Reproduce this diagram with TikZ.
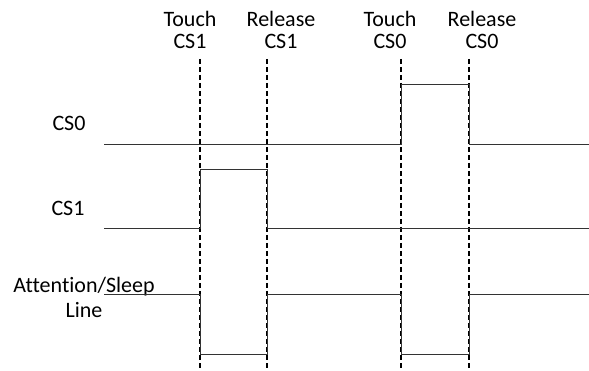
\documentclass[tikz,border=0pt]{standalone}
\usepackage{fontspec}
\setmainfont{Carlito}[Ligatures=NoCommon]
\usetikzlibrary{calc}
\tikzset{
  sig/.style={font=\fontsize{22}{25}\selectfont, align=center, inner sep=0pt},
  evt/.style={font=\fontsize{22}{22}\selectfont, align=center, inner sep=0pt},
  wave/.style={line width=1pt, draw=black!80},
  marker/.style={line width=1.3pt, dash pattern=on 5pt off 3pt}
}
\begin{document}
\begin{tikzpicture}[x=1pt, y=-1pt]
\useasboundingbox (0,0) rectangle (589,371);
% event labels
\node[evt] (touch1) at (190,30) {Touch\\CS1};
\node[evt] (rel1) at (281,30) {Release\\CS1};
\node[evt] (touch0) at (390,30) {Touch\\CS0};
\node[evt] (rel0) at (482,30) {Release\\CS0};
% signal labels
\node[sig] (lcs0) at (69,123) {CS0};
\node[sig] (lcs1) at (68,208) {CS1};
\node[sig] (latt) at (84,297) {Attention/Sleep\\Line};
% event markers
\coordinate (t1) at (200,59);  \coordinate (t1b) at (200,371);
\coordinate (r1) at (267,59);  \coordinate (r1b) at (267,371);
\coordinate (t0) at (401,59);  \coordinate (t0b) at (401,371);
\coordinate (r0) at (469,59);  \coordinate (r0b) at (469,371);
\foreach \m in {t1,r1,t0,r0}
  \draw[marker] (\m) -- (\m b);
% levels
\coordinate (cs0s) at (104,144.5); \coordinate (cs0e) at (589,144.5); \coordinate (cs0h) at (0,84.5);
\coordinate (cs1s) at (104,228.5); \coordinate (cs1e) at (589,228.5); \coordinate (cs1h) at (0,169.5);
\coordinate (atts) at (104,295);   \coordinate (atte) at (589,295);   \coordinate (attl) at (0,354.5);
% waveforms
\draw[wave] (cs0s) -- (t0 |- cs0s) -- (t0 |- cs0h) -- (r0 |- cs0h) -- (r0 |- cs0s) -- (cs0e);
\draw[wave] (cs1s) -- (t1 |- cs1s) -- (t1 |- cs1h) -- (r1 |- cs1h) -- (r1 |- cs1s) -- (cs1e);
\draw[wave] (atts) -- (t1 |- atts) -- (t1 |- attl) -- (r1 |- attl) -- (r1 |- atts)
  -- (t0 |- atts) -- (t0 |- attl) -- (r0 |- attl) -- (r0 |- atts) -- (atte);
\end{tikzpicture}
\end{document}
